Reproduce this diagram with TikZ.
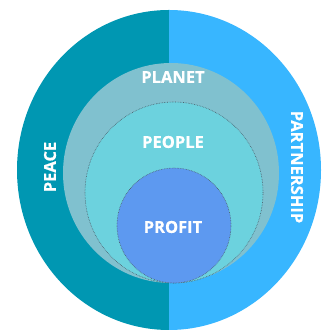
\documentclass[tikz,border=0pt]{standalone}
\usepackage{fontspec}
\setmainfont{Open Sans}[BoldFeatures={FakeBold=0.6}]
\definecolor{peacecol}{HTML}{0097B2}
\definecolor{partcol}{HTML}{38B6FF}
\definecolor{planetcol}{HTML}{80C1CF}
\definecolor{peoplecol}{HTML}{6CD2DE}
\definecolor{profitcol}{HTML}{5D99F0}
\definecolor{rimcol}{HTML}{4A5A66}
\tikzset{
  label/.style={text=white, font=\fontsize{16.5}{17}\selectfont\bfseries, inner sep=0pt},
  ring/.style={draw=rimcol, densely dotted, line width=0.6pt}
}
\begin{document}
\begin{tikzpicture}[x=1pt,y=1pt]
\useasboundingbox (0,0) rectangle (325,331);
% outer ring, split into two halves
\begin{scope}
  \clip (0,0) rectangle (169,331);
  \fill[peacecol] (169,161) ellipse [x radius=152, y radius=160];
\end{scope}
\begin{scope}
  \clip (169,0) rectangle (325,331);
  \fill[partcol] (169,161) ellipse [x radius=152, y radius=160];
\end{scope}
% nested circles
\fill[planetcol] (171,158) ellipse [x radius=108, y radius=110];
\fill[peoplecol] (174,138.5) ellipse [x radius=89, y radius=90.5];
\draw[ring] (174,138.5) ellipse [x radius=89, y radius=90.5];
\fill[profitcol] (174,105.5) ellipse [x radius=57, y radius=57.5];
\draw[ring] (174,105.5) ellipse [x radius=57, y radius=57.5];
% labels
\node[label] (planet) at (173,254) {PLANET};
\node[label] (people) at (173,189) {PEOPLE};
\node[label] (profit) at (173,104) {PROFIT};
\node[label, rotate=90] (peace) at (50,164) {PEACE};
\node[label, rotate=-90] (partnership) at (297,164) {PARTNERSHIP};
\end{tikzpicture}
\end{document}
